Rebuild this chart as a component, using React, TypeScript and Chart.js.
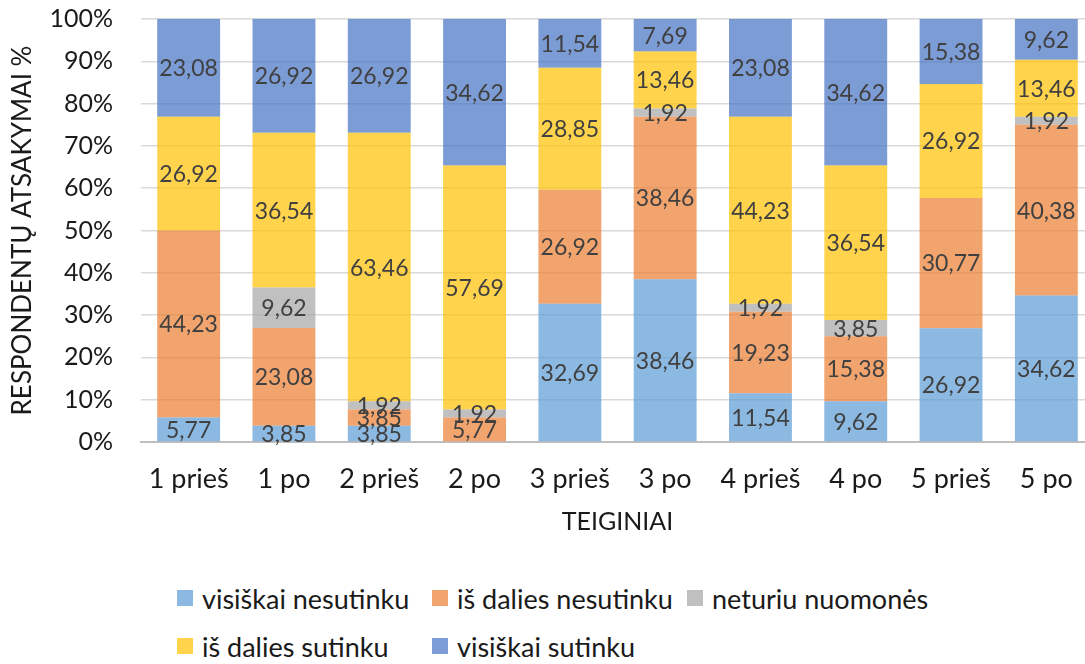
import React, { useEffect, useRef } from "react";
import { Chart, registerables } from "chart.js";

Chart.register(...registerables);

const categories = ["1 prieš", "1 po", "2 prieš", "2 po", "3 prieš", "3 po", "4 prieš", "4 po", "5 prieš", "5 po"];
const seriesNames = ["visiškai nesutinku", "iš dalies nesutinku", "neturiu nuomonės", "iš dalies sutinku", "visiškai sutinku"];
const visiskaiNesutinku = [5.77, 3.85, 3.85, 0, 32.69, 38.46, 11.54, 9.62, 26.92, 34.62];
const isDaliesNesutinku = [44.23, 23.08, 3.85, 5.77, 26.92, 38.46, 19.23, 15.38, 30.77, 40.38];
const neturiuNuomones = [0, 9.62, 1.92, 1.92, 0, 1.92, 1.92, 3.85, 0, 1.92];
const isDaliesSutinku = [26.92, 36.54, 63.46, 57.69, 28.85, 13.46, 44.23, 36.54, 26.92, 13.46];
const visiskaiSutinku = [23.08, 26.92, 26.92, 34.62, 11.54, 7.69, 23.08, 34.62, 15.38, 9.62];
const seriesValues = [visiskaiNesutinku, isDaliesNesutinku, neturiuNuomones, isDaliesSutinku, visiskaiSutinku];
const seriesColors = [
  "rgba(91,155,213,0.7)",
  "rgba(237,125,49,0.7)",
  "rgba(165,165,165,0.7)",
  "rgba(255,192,0,0.7)",
  "rgba(68,114,196,0.7)",
];
const yMax = 100;
const yStep = 10;
const axisTitleY = "RESPONDENTŲ ATSAKYMAI %";
const axisTitleX = "TEIGINIAI";

const FONT = "Lato, 'Noto Sans', sans-serif";
const TEXT = "#1a1a1a";

const fmt = (v: number) => v.toFixed(2).replace(".", ",");

const labelPlugin = {
  id: "segLabels",
  afterDatasetsDraw(chart: any) {
    const ctx = chart.ctx;
    ctx.save();
    ctx.font = `23px ${FONT}`;
    ctx.fillStyle = "#404040";
    ctx.textAlign = "center";
    ctx.textBaseline = "middle";
    chart.data.datasets.forEach((ds: any, di: number) => {
      const meta = chart.getDatasetMeta(di);
      meta.data.forEach((el: any, i: number) => {
        const v = ds.data[i];
        if (!v) return;
        const y = (el.y + el.base) / 2;
        ctx.fillText(fmt(v), el.x, y + 1);
      });
    });
    ctx.restore();
  },
};

export default function App() {
  const ref = useRef<HTMLCanvasElement | null>(null);
  useEffect(() => {
    if (!ref.current) return;
    const chart = new Chart(ref.current, {
      type: "bar",
      data: {
        labels: categories,
        datasets: seriesNames.map((name, i) => ({
          label: name,
          data: seriesValues[i],
          backgroundColor: seriesColors[i],
          borderWidth: 0,
          barPercentage: 0.66,
          categoryPercentage: 1,
        })),
      },
      options: {
        animation: false,
        responsive: true,
        maintainAspectRatio: false,
        layout: { padding: { top: 19, right: 6, left: 0, bottom: 0 } },
        plugins: {
          legend: { display: false },
          tooltip: { enabled: false },
        },
        scales: {
          x: {
            stacked: true,
            grid: { display: false, drawTicks: false, tickLength: 0 },
            border: { display: true, color: "#BFBFBF", width: 2 },
            ticks: { color: TEXT, font: { family: FONT, size: 27 }, padding: 21, maxRotation: 0 },
            title: { display: true, text: axisTitleX, color: TEXT, font: { family: FONT, size: 25 }, padding: { top: 0, bottom: 23 } },
            afterFit: (s: any) => { s.height = 118; s.paddingLeft = 0; s.paddingRight = 0; },
          },
          y: {
            stacked: true,
            min: 0,
            max: yMax,
            ticks: { stepSize: yStep, color: TEXT, font: { family: FONT, size: 25 }, padding: 28, callback: (v: any) => v + "%" },
            grid: { color: "#D9D9D9", lineWidth: 1.5, drawTicks: false, tickLength: 0 },
            border: { display: false },
            title: { display: true, text: axisTitleY, color: TEXT, font: { family: FONT, size: 26 }, padding: { top: 7, bottom: 0 } },
            afterFit: (s: any) => { s.width = 141; s.paddingTop = 0; s.paddingBottom = 0; },
          },
        },
      },
      plugins: [labelPlugin],
    });
    return () => chart.destroy();
  }, []);

  return (
    <div style={{ position: "fixed", left: 0, top: 0, width: 1100, height: 664, background: "#fff", fontFamily: FONT }}>
      <div style={{ position: "absolute", left: 0, top: 0, width: 1100, height: 560 }}>
        <canvas ref={ref} />
      </div>
      <div
        style={{
          position: "absolute",
          left: 177,
          top: 580,
          display: "grid",
          gridTemplateColumns: "255px 255px 255px",
          rowGap: 12,
          fontSize: 27,
          color: TEXT,
        }}
      >
        {seriesNames.map((name, i) => (
          <div key={name} style={{ display: "flex", alignItems: "center", height: 36, whiteSpace: "nowrap" }}>
            <span style={{ width: 16, height: 16, background: seriesColors[i], marginRight: 9, flex: "none" }} />
            <span>{name}</span>
          </div>
        ))}
      </div>
    </div>
  );
}
